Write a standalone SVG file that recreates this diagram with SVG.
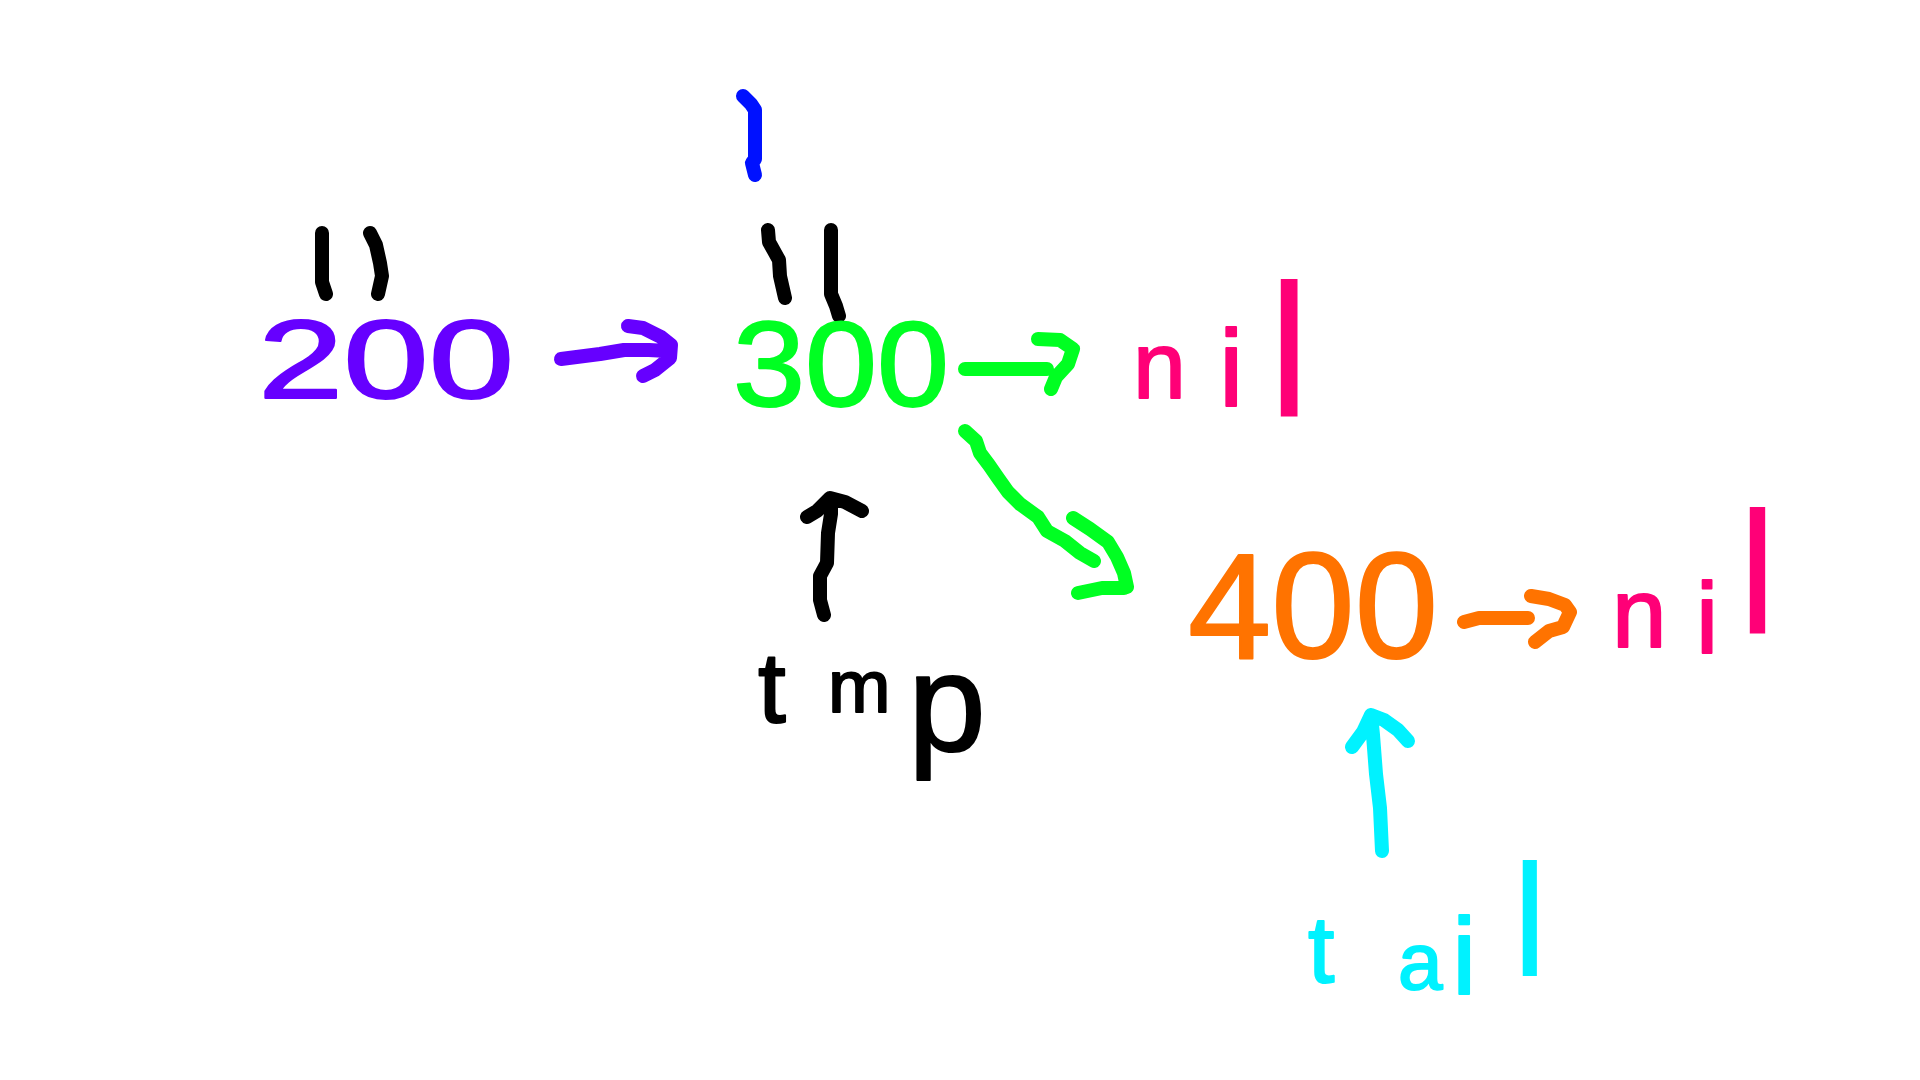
<svg xmlns="http://www.w3.org/2000/svg" width="1920" height="1080" viewBox="0 0 1920 1080">
<style>
.t{font-family:"Liberation Sans","DejaVu Sans",sans-serif;stroke-width:2;stroke-linejoin:round}
.ln{fill:none;stroke-width:14;stroke-linecap:round;stroke-linejoin:round}
.pu{fill:#6600ff;stroke:#6600ff}
.gr{fill:#00ff22;stroke:#00ff22}
.pk{fill:#ff0077;stroke:#ff0077}
.or{fill:#ff7300;stroke:#ff7300}
.bk{fill:#000;stroke:#000}
.cy{fill:#00f2ff;stroke:#00f2ff}
.ln.pu,.ln.gr,.ln.pk,.ln.or,.ln.bk,.ln.cy,.ln.bl{fill:none}
.bl{stroke:#0011ff}
.thin{stroke-width:0}
</style>
<rect width="1920" height="1080" fill="#fff"/>
<g id="marks">
<path class="ln bk" d="M322,233 L322,282 L326,294"/>
<path class="ln bk" d="M370,233 L376,245 L380,263 L382,276 L378,294"/>
<path class="ln bk" d="M768,230 L769,242 L779,260 L780,276 L785,298"/>
<path class="ln bk" d="M831,230 L831,294 L836,306 L839,316"/>
<path class="ln bl" d="M743,96 L751,104 L755,110 L755,159 L752,163 L755,175"/>
</g>
<g id="node-200"><text class="t pu" x="258" y="398" font-size="112" textLength="256" lengthAdjust="spacingAndGlyphs">200</text></g>
<g id="node-300"><text class="t gr" x="733" y="406" font-size="120" textLength="216" lengthAdjust="spacingAndGlyphs">300</text></g>
<g id="node-nil1"><text class="t pk" x="1133" y="398" font-size="95">n<tspan x="1219" y="406" font-size="110">i</tspan><tspan class="thin" x="1268" y="416" font-size="190">l</tspan></text></g>
<g id="node-400"><text class="t or" x="1188" y="658" font-size="150" textLength="250" lengthAdjust="spacingAndGlyphs">400</text></g>
<g id="node-nil2"><text class="t pk" x="1612" y="647" font-size="98">n<tspan x="1696" y="653" font-size="100">i</tspan><tspan class="thin" x="1738" y="633" font-size="175">l</tspan></text></g>
<g id="node-tmp"><text class="t bk" x="758" y="722" font-size="100">t<tspan x="828" y="712" font-size="75">m</tspan><tspan x="908" y="751" font-size="140">p</tspan></text></g>
<g id="node-tail"><text class="t cy" x="1308" y="982" font-size="95">t<tspan x="1398" y="989" font-size="80">a</tspan><tspan x="1452" y="994" font-size="110">i</tspan><tspan class="thin" x="1512" y="976" font-size="160">l</tspan></text></g>
<g id="connectors">
<path class="ln pu" d="M561,359 L600,354 L624,350 L649,350 L667,351 M628,326 L643,328 L661,337 L671,345 L670,358 L655,370 L643,376"/>
<path class="ln gr" d="M965,369 L1047,369 M1038,339 L1060,340 L1073,349 L1068,364 L1056,377 L1051,389"/>
<path class="ln gr" d="M965,431 L976,441 L980,453 L989,465 L998,478 L1008,492 L1020,504 L1038,517 L1047,531 L1065,541 L1080,553 L1094,561 M1073,518 L1090,529 L1108,542 L1117,557 L1124,573 L1127,587 M1078,593 L1102,588 L1124,588"/>
<path class="ln bk" d="M824,615 L820,600 L820,576 L827,563 L828,533 L831,514 L831,500 M807,517 L817,511 L830,498 L845,502 L862,511"/>
<path class="ln or" d="M1464,622 L1479,618 L1528,618 M1531,596 L1549,599 L1565,605 L1570,612 L1563,627 L1549,631 L1535,642"/>
<path class="ln cy" d="M1382,851 L1380,808 L1376,774 L1373,735 L1371,715 M1352,747 L1363,732 L1371,715 L1384,720 L1398,730 L1408,741"/>
</g>
</svg>
